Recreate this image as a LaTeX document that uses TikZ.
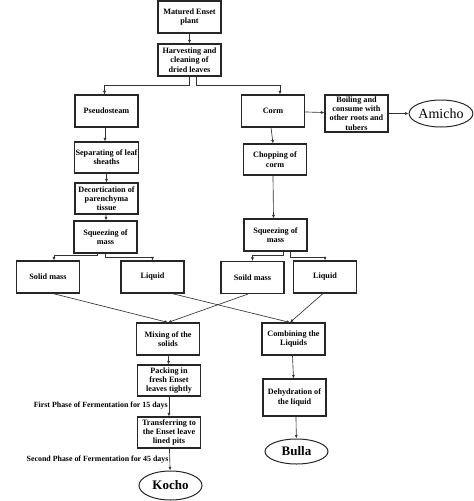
\documentclass[tikz,border=0pt]{standalone}
\usepackage{fontspec}
\setmainfont{Liberation Serif}
\usetikzlibrary{positioning, shapes.geometric, arrows.meta}

\begin{document}
\begin{tikzpicture}[x=1pt, y=-1pt,
        stage/.style={draw=black!85, line width=1.1pt, minimum width=63pt, minimum height=32pt, inner sep=1pt, align=center, font=\bfseries\fontsize{8.2}{9.3}\selectfont},
        product/.style={ellipse, draw=black!85, line width=1pt, minimum width=63pt, minimum height=27pt, inner sep=0pt},
        flow/.style={-{Latex[length=3.5pt,width=3pt]}, draw=black!80, line width=0.65pt},
        phase/.style={font=\bfseries\fontsize{7.9}{8}\selectfont, inner sep=1pt}]

        \useasboundingbox (0,0) rectangle (474,501); % page frame

        % top of the chart
        \node[stage] (plant) at (189.5,17) {Matured Enset\\plant};
        \node[stage] (harvest) at (189.5,60) {Harvesting and\\cleaning of\\dried leaves};

        % pseudostem branch
        \node[stage] (pseudo) at (106.5,111) {Pseudosteam};
        \node[stage, minimum height=31pt] (separate) at (106.5,157.5) {Separating of leaf\\sheaths};
        \node[stage, minimum height=31pt] (decort) at (106.5,198.5) {Decortication of\\parenchyma\\tissue};
        \node[stage] (squeezeL) at (105.5,237) {Squeezing of\\mass};
        \node[stage] (solidL) at (48,277) {Solid mass};
        \node[stage] (liquidL) at (152.5,277) {Liquid};

        % corm branch
        \node[stage] (corm) at (273,111) {Corm};
        \node[stage, minimum height=37pt] (boil) at (356.5,113.5) {Boiling and\\consume with\\other roots and\\tubers};
        \node[product, font=\fontsize{14}{14}\selectfont] (amicho) at (441,113.5) {Amicho};
        \node[stage, minimum height=31pt] (chop) at (275,159.5) {Chopping of\\corm};
        \node[stage] (squeezeR) at (275.5,235) {Squeezing of\\mass};
        \node[stage] (solidR) at (252.5,277.5) {Soild mass};
        \node[stage] (liquidR) at (325,277) {Liquid};

        % solids to kocho
        \node[stage] (mix) at (168,339) {Mixing of the\\solids};
        \node[stage, minimum height=31pt] (pack) at (169,380.5) {Packing in\\fresh Enset\\leaves tightly};
        \node[stage, minimum height=31pt] (transfer) at (169,432.5) {Transferring to\\the Enset leave\\lined pits};
        \node[product, minimum height=29pt, font=\bfseries\fontsize{13}{13}\selectfont] (kocho) at (170.5,485.5) {Kocho};

        % liquids to bulla
        \node[stage] (combine) at (293.5,339) {Combining the\\Liquids};
        \node[stage, minimum height=37pt] (dehyd) at (294.5,397.5) {Dehydration of\\the liquid};
        \node[product, minimum height=25pt, font=\bfseries\fontsize{13}{13}\selectfont] (bulla) at (296.5,451.5) {Bulla};

        % arrows
        \draw[flow] (plant) -- (harvest);
        \draw[flow] (harvest.south) -- ++(0,9) -| ([xshift=-2pt]pseudo.north);
        \draw[flow] ([xshift=7pt]harvest.south) -- ++(0,9) -| ([xshift=7pt]corm.north);
        \draw[flow] (corm) -- (boil);
        \draw[flow] (boil) -- (amicho);

        \draw[flow] ([xshift=-1.5pt]pseudo.south) -- ([xshift=-1.5pt]separate.north);
        \draw[flow] (separate) -- (decort);
        \draw[flow] (decort) -- (squeezeL);
        \draw[flow] ([xshift=-8pt]squeezeL.south) -- ++(0,2) -| ([xshift=6pt]solidL.north);
        \draw[flow] (squeezeL.south) -- ++(0,4) -| (liquidL.north);

        \draw[flow] ([xshift=-2pt]corm.south) -- ([xshift=-2pt]chop.north);
        \draw[flow] ([xshift=-2pt]chop.south) -- ([xshift=-2pt]squeezeR.north);
        \draw[flow] ([xshift=7.5pt]squeezeR.south) -- ++(0,4) -| (solidR.north);
        \draw[flow] ([xshift=14.5pt]squeezeR.south) -- ++(0,6) -| (liquidR.north);

        % crossing lines
        \draw[flow] ([xshift=5pt]solidL.south) -- (mix.north);
        \draw[flow] ([xshift=-4.5pt]solidR.south) -- (mix.north);
        \draw[flow] ([xshift=19.5pt]liquidL.south) -- ([xshift=-3.5pt]combine.north);
        \draw[flow] ([xshift=-2pt]liquidR.south) -- ([xshift=-3.5pt]combine.north);

        \draw[flow] (mix) -- (pack);
        \draw[flow] (pack) -- node[phase, left, pos=0.45] (phaseone) {First Phase of Fermentation for 15 days} (transfer);
        \draw[flow] (transfer) -- node[phase, left, pos=0.5] (phasetwo) {Second Phase of Fermentation for 45 days} (kocho);
        \draw[flow] ([xshift=-1pt]combine.south) -- ([xshift=-1pt]dehyd.north);
        \draw[flow] ([xshift=1.5pt]dehyd.south) -- (bulla);
\end{tikzpicture}
\end{document}
